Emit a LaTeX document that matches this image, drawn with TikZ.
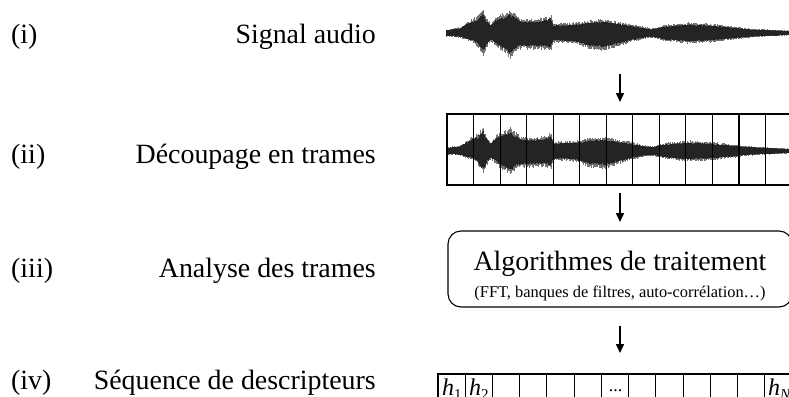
\documentclass[tikz,border=0pt]{standalone}
\usepackage{fontspec}
\setmainfont{Liberation Serif}
\usetikzlibrary{arrows.meta}
\def\wavesegs{446/3/3/460/5/4, 460/5/4/473/13/8, 473/13/8/478/15/12, 478/15/12/483/21/20, 483/21/20/487/12/12, 487/12/12/491/8/7, 491/8/7/497/15/12, 497/15/12/504/17/17, 504/17/17/510/20/22, 510/20/22/516/16/16, 516/16/16/521/12/14, 521/12/14/535/12/14, 535/12/14/548/14/14, 548/14/14/551/17/15, 551/17/15/553/8/8, 553/8/8/575/9/9, 575/9/9/590/11/14, 590/11/14/605/12/15, 605/12/15/617/10/12, 617/10/12/630/8/8, 630/8/8/645/5/5, 645/5/5/652/4/4, 652/4/4/665/7/7, 665/7/7/690/9/9, 690/9/9/710/8/8, 710/8/8/730/6/6, 730/6/6/750/4/4, 750/4/4/770/3/3, 770/3/3/792/2/2}
\newcommand\drawwave[1]{%
  \foreach \xa/\ua/\da/\xb/\ub/\db in \wavesegs {%
    \pgfmathtruncatemacro\nn{max(1,(\xb-\xa)/0.6)}%
    \foreach \i in {0,...,\nn}{%
      \pgfmathsetmacro\xx{\xa+(\xb-\xa)*\i/\nn}%
      \pgfmathsetmacro\ee{\ua+(\ub-\ua)*\i/\nn}%
      \pgfmathsetmacro\ff{\da+(\db-\da)*\i/\nn}%
      \pgfmathsetmacro\uu{\ee*(0.9+0.3*rnd)}%
      \pgfmathsetmacro\dd{\ff*(0.9+0.3*rnd)}%
      \draw[waveout] (\xx,#1-\uu) -- (\xx,#1+\dd);
      \pgfmathsetmacro\uu{\ee*(0.84+0.12*rnd)}%
      \pgfmathsetmacro\dd{\ff*(0.84+0.12*rnd)}%
      \draw[wavein] (\xx,#1-\uu) -- (\xx,#1+\dd);
    }}}
\begin{document}
\begin{tikzpicture}[x=1pt,y=-1pt,
  big/.style={font=\fontsize{27.9}{30}\selectfont, inner sep=0pt},
  lbl/.style={big, anchor=base east},
  num/.style={big, anchor=base west},
  arr/.style={line width=1.6pt, -{Triangle[length=9pt,width=8pt]}},
  waveout/.style={line width=0.7pt, black!55},
  wavein/.style={line width=0.9pt, black!86},
  thinbox/.style={draw, line width=1.1pt},
  cell/.style={font=\fontsize{24}{24}\selectfont, inner sep=0pt, anchor=base west}]
\useasboundingbox (0,0) rectangle (789,396);
\clip (0,0) rectangle (789,396);
\fill[white] (0,0) rectangle (789,396);
\pgfmathsetseed{7}

% left labels
\node[num] (n1) at (11,44) {(i)};
\node[num] (n2) at (11,163) {(ii)};
\node[num] (n3) at (11,277) {(iii)};
\node[num] (n4) at (11,389) {(iv)};
\node[lbl] (l1) at (376,44) {Signal audio};
\node[lbl] (l2) at (376,163) {Découpage en trames};
\node[lbl] (l3) at (376,277) {Analyse des trames};
\node[lbl] (l4) at (376,389) {Séquence de descripteurs};

% (i) waveform
\drawwave{33}

% arrow 1
\coordinate (a1s) at (620,74);
\coordinate (a1e) at (620,102);
\draw[arr] (a1s) -- (a1e);

% (ii) frames
\drawwave{151}
\node[thinbox, minimum width=345pt, minimum height=71pt] (frames) at (619.5,149.5) {};
\foreach \k in {1,...,12}{
  \draw[line width=1.1pt] ({447+26.54*\k},114) -- ({447+26.54*\k},185);
}

% arrow 2
\coordinate (a2s) at (620,193);
\coordinate (a2e) at (620,222);
\draw[arr] (a2s) -- (a2e);

% (iii) processing box
\node[draw, line width=1.1pt, rounded corners=13pt, minimum width=344pt, minimum height=76pt, inner sep=0pt] (proc) at (620,269) {};
\node[big, anchor=base] (t1) at (620,270) {Algorithmes de traitement};
\node[font=\fontsize{16.4}{18}\selectfont, inner sep=0pt, anchor=base] (t2) at (620,297) {(FFT, banques de filtres, auto-corrélation…)};

% arrow 3
\coordinate (a3s) at (620,326);
\coordinate (a3e) at (620,353);
\draw[arr] (a3s) -- (a3e);

% (iv) descriptor cells
\foreach \k in {0,...,12}{
  \draw[line width=1.1pt] ({438+27.23*\k},374) rectangle ({438+27.23*(\k+1)},404);
}
\node[cell] (h1) at (442,395) {\textit{h}\raisebox{-4pt}{\fontsize{15}{15}\selectfont 1}};
\node[cell] (h2) at (469,395) {\textit{h}\raisebox{-4pt}{\fontsize{15}{15}\selectfont 2}};
\node[cell, anchor=base] (dots) at (615.5,391) {\fontsize{18}{18}\selectfont ...};
\node[cell] (hN) at (768,395) {\textit{h}\raisebox{-4pt}{\fontsize{15}{15}\selectfont \textit{N}}};
\end{tikzpicture}
\end{document}
